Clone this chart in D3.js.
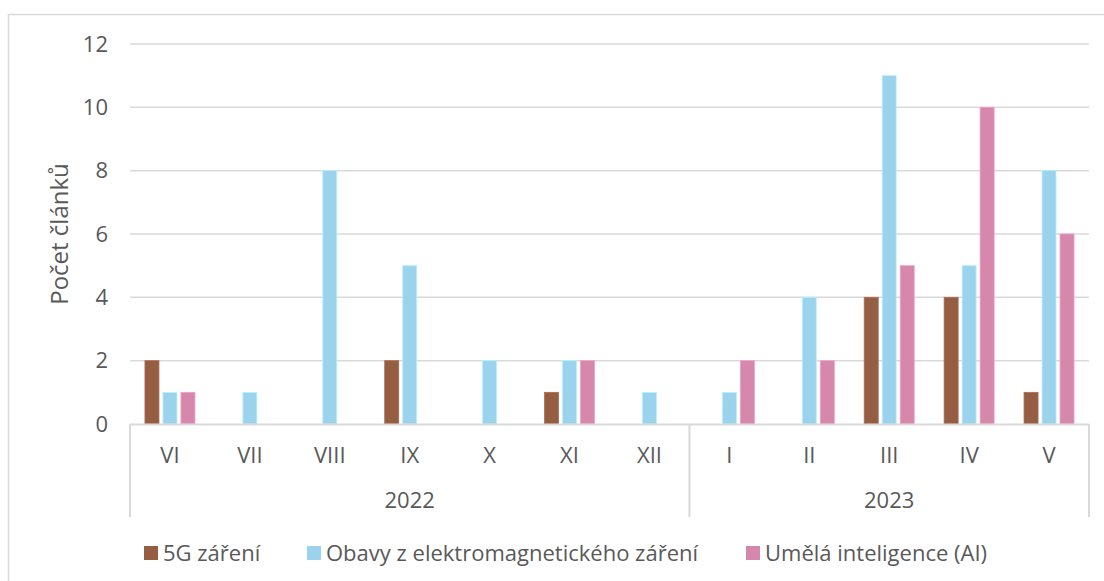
<!DOCTYPE html>
<html>
<head>
<meta charset="utf-8">
<script src="https://cdn.jsdelivr.net/npm/d3@7"></script>
<style>
  body { margin: 0; background: #fff; }
  text { font-family: "Open Sans", "Noto Sans", sans-serif; fill: #595959; }
</style>
</head>
<body>
<div id="chart"></div>
<script>
// data
const months = ['VI', 'VII', 'VIII', 'IX', 'X', 'XI', 'XII', 'I', 'II', 'III', 'IV', 'V']
const years = [{ label: '2022', from: 0, to: 7 }, { label: '2023', from: 7, to: 12 }]
const seriesNames = ['5G záření', 'Obavy z elektromagnetického záření', 'Umělá inteligence (AI)']
const s5g = [2, 0, 0, 2, 0, 1, 0, 0, 0, 4, 4, 1]
const sEmf = [1, 1, 8, 5, 2, 2, 1, 1, 4, 11, 5, 8]
const sAi = [1, 0, 0, 0, 0, 2, 0, 2, 2, 5, 10, 6]
const yTicks = [0, 2, 4, 6, 8, 10, 12]
const colors = ['#955E42', '#9BD3EC', '#D587AC']

const width = 1104, height = 581
const fs = 22

let svg = d3.select('#chart').append('svg')
    .attr('width', width)
    .attr('height', height)

// outer chart border (runs past the right / bottom edge)
svg.append('rect')
    .attr('x', 8.5).attr('y', 14.5)
    .attr('width', 1200).attr('height', 700)
    .attr('fill', 'none')
    .attr('stroke', '#d9d9d9')
    .attr('stroke-width', 1.5)

let x = d3.scaleBand()
    .domain(d3.range(months.length))
    .range([130, 1089])

let inner = d3.scaleBand()
    .domain(d3.range(3))
    .range([0, 50])
    .paddingInner(4 / 18)

let y = d3.scaleLinear()
    .domain([0, 12])
    .range([424, 44])

// gridlines
svg.append('g')
    .selectAll('line')
    .data(yTicks.filter(d => d > 0))
    .enter()
    .append('line')
    .attr('x1', 130).attr('x2', 1089)
    .attr('y1', d => y(d)).attr('y2', d => y(d))
    .attr('stroke', '#d9d9d9')
    .attr('stroke-width', 1.5)

// y tick labels
svg.append('g')
    .selectAll('text')
    .data(yTicks)
    .enter()
    .append('text')
    .attr('x', 108)
    .attr('y', d => y(d))
    .attr('dy', '0.35em')
    .attr('text-anchor', 'end')
    .attr('font-size', fs)
    .text(d => d)

svg.append('text')
    .attr('transform', 'translate(60,' + y(6) + ') rotate(-90)')
    .attr('dy', '0.35em')
    .attr('text-anchor', 'middle')
    .attr('font-size', 24)
    .text('Počet článků')

// bars
let allSeries = [s5g, sEmf, sAi]
let barData = []
allSeries.forEach(function (s, si) {
    s.forEach(function (v, mi) {
        if (v > 0) barData.push({ m: mi, s: si, v: v })
    })
})

svg.append('g')
    .selectAll('rect')
    .data(barData)
    .enter()
    .append('rect')
    .attr('x', d => x(d.m) + (x.bandwidth() - 50) / 2 + inner(d.s))
    .attr('y', d => y(d.v))
    .attr('width', inner.bandwidth())
    .attr('height', d => y(0) - y(d.v))
    .attr('fill', d => colors[d.s])
    .attr('stroke', d => d3.color(colors[d.s]).brighter(0.4))
    .attr('stroke-width', 0.8)

// category axis
svg.append('line')
    .attr('x1', 130).attr('x2', 1089)
    .attr('y1', 424.5).attr('y2', 424.5)
    .attr('stroke', '#d9d9d9')
    .attr('stroke-width', 2)

let dividers = [0, 7, 12].map(i => i < 12 ? x(i) : x(11) + x.bandwidth())
svg.append('g')
    .selectAll('line')
    .data(dividers)
    .enter()
    .append('line')
    .attr('x1', d => d).attr('x2', d => d)
    .attr('y1', 424).attr('y2', 517)
    .attr('stroke', '#d9d9d9')
    .attr('stroke-width', 2)

svg.append('g')
    .selectAll('text')
    .data(months)
    .enter()
    .append('text')
    .attr('x', (d, i) => x(i) + x.bandwidth() / 2)
    .attr('y', 455)
    .attr('dy', '0.35em')
    .attr('text-anchor', 'middle')
    .attr('font-size', fs)
    .text(d => d)

svg.append('g')
    .selectAll('text')
    .data(years)
    .enter()
    .append('text')
    .attr('x', d => (x(d.from) + (d.to < 12 ? x(d.to) : 1089)) / 2)
    .attr('y', 500)
    .attr('dy', '0.35em')
    .attr('text-anchor', 'middle')
    .attr('font-size', fs)
    .text(d => d.label)

// legend
let legendX = [144, 307, 746]
let legend = svg.append('g')
    .selectAll('g')
    .data(seriesNames)
    .enter()
    .append('g')
    .attr('transform', (d, i) => 'translate(' + legendX[i] + ',553)')

legend.append('rect')
    .attr('x', 0).attr('y', -7)
    .attr('width', 14).attr('height', 14)
    .attr('fill', (d, i) => colors[i])

legend.append('text')
    .attr('x', 19)
    .attr('dy', '0.35em')
    .attr('font-size', fs)
    .text(d => d)
</script>
</body>
</html>
